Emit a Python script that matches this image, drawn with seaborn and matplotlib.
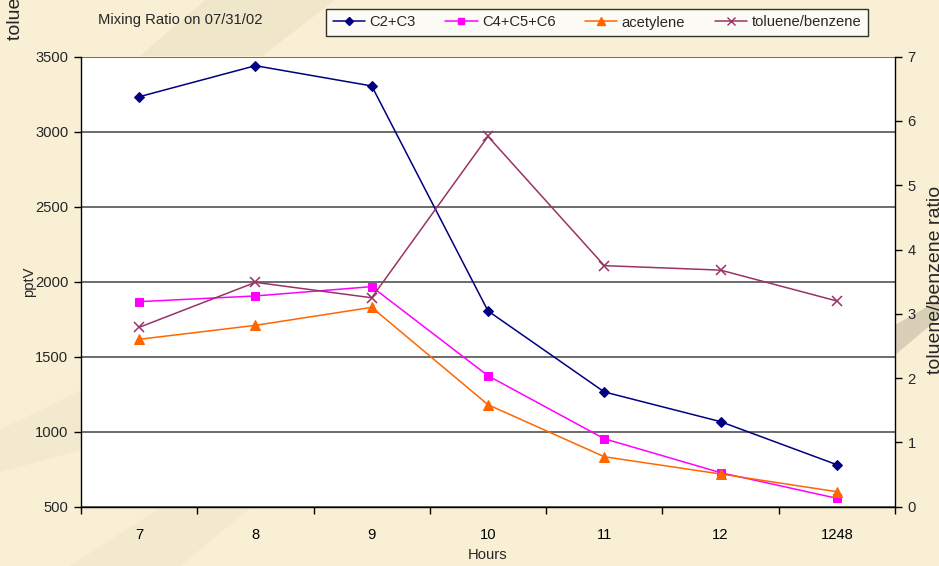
import numpy as np
import pandas as pd
import matplotlib
matplotlib.use("Agg")
import matplotlib.pyplot as plt
from matplotlib.patches import Polygon
from matplotlib.lines import Line2D
from matplotlib import font_manager
import seaborn as sns

hours = ["7", "8", "9", "10", "11", "12", "1248"]
c2_c3 = [3233, 3440, 3305, 1805, 1265, 1067, 780]
c4_c5_c6 = [1867, 1905, 1967, 1373, 953, 727, 556]
acetylene = [1616, 1709, 1829, 1180, 833, 718, 600]
tol_benz = [2.79, 3.49, 3.25, 5.76, 3.75, 3.68, 3.20]

left_ticks = [500, 1000, 1500, 2000, 2500, 3000, 3500]
right_ticks = [0, 1, 2, 3, 4, 5, 6, 7]

sns.set_theme(style="white")
names = {f.name for f in font_manager.fontManager.ttflist}
narrow = "Liberation Sans Narrow" in names
plt.rcParams['font.family'] = (['Liberation Sans Narrow', 'Liberation Sans', 'DejaVu Sans']
                               if narrow else ['Liberation Sans', 'DejaVu Sans'])
FS = 12.6 if narrow else 10.6
FS_BIG = 16.5 if narrow else 14

W, H = 939, 566
fig = plt.figure(figsize=(W / 100, H / 100), dpi=100)
bg = "#F8EFD5"
fig.patch.set_facecolor(bg)

def fx(x):
    return x / W
def fy(y):
    return 1 - y / H

# decorative swooshes
for pts, col in [
    ([(140, 56), (205, 0), (335, 0), (262, 56)], "#F0E6CA"),
    ([(0, 430), (81, 390), (81, 450), (0, 472)], "#F2E9CE"),
    ([(70, 566), (160, 508), (250, 508), (180, 566)], "#F2E9CE"),
    ([(895, 325), (939, 300), (939, 318), (895, 355)], "#D8CFB6"),
]:
    fig.add_artist(Polygon([(fx(a), fy(b)) for a, b in pts], closed=True,
                           transform=fig.transFigure, facecolor=col,
                           edgecolor="none", zorder=0))

L, R, T, B = 81, 895, 56.7, 506.7
ax = fig.add_axes([fx(L), fy(B), (R - L) / W, (B - T) / H])
ax.set_facecolor("white")
ax2 = ax.twinx()

x = np.arange(len(hours))
df = pd.DataFrame({"pos": np.tile(x, 3),
                   "val": c2_c3 + c4_c5_c6 + acetylene,
                   "series": ["C2+C3"] * 7 + ["C4+C5+C6"] * 7 + ["acetylene"] * 7})
colors = {"C2+C3": "#000080", "C4+C5+C6": "#FF00FF", "acetylene": "#FF6600"}
markers = {"C2+C3": "D", "C4+C5+C6": "s", "acetylene": "^"}
msize = {"C2+C3": 5, "C4+C5+C6": 6, "acetylene": 7}
for s in ["C2+C3", "C4+C5+C6", "acetylene"]:
    sub = df[df.series == s]
    sns.lineplot(data=sub, x="pos", y="val", ax=ax, color=colors[s],
                 marker=markers[s], markersize=msize[s], markeredgecolor=colors[s],
                 linewidth=1.1, legend=False, zorder=3)

tb_color = "#993366"
df2 = pd.DataFrame({"pos": x, "val": tol_benz})
sns.lineplot(data=df2, x="pos", y="val", ax=ax2, color=tb_color, marker="x",
             markersize=7, markeredgewidth=1.1, markeredgecolor=tb_color,
             linewidth=1.1, legend=False)

ax.set_xlim(-0.5, len(hours) - 0.5)
ax.set_ylim(500, 3500)
ax2.set_ylim(0, 7)
ax.set_yticks(left_ticks)
ax2.set_yticks(right_ticks)
ax.set_xticks(x)
ax.set_xticklabels(hours)
ax.set_xticks(np.arange(-0.5, len(hours) + 0.5, 1), minor=True)
ax.tick_params(axis="x", which="major", length=0, pad=15, labelsize=FS, colors="black")
ax.tick_params(axis="x", which="minor", length=5, width=1, color="black", direction="out", bottom=True)
ax.tick_params(axis="y", length=5, width=1, color="black", direction="out", labelsize=FS, left=True, pad=4)
ax2.tick_params(axis="y", length=5, width=1, color="black", direction="out", labelsize=FS, right=True, pad=4)

ax.yaxis.grid(True, color="#606060", linewidth=1.3)
ax.xaxis.grid(False)
ax2.grid(False)
for a in (ax, ax2):
    for sp in a.spines.values():
        sp.set_visible(False)
ax.spines["left"].set_visible(True)
ax.spines["left"].set_color("black")
ax.spines["bottom"].set_visible(True)
ax.spines["bottom"].set_color("black")
ax2.spines["right"].set_visible(True)
ax2.spines["right"].set_color("black")
for sp in ("left", "bottom"):
    ax.spines[sp].set_linewidth(1)
ax2.spines["right"].set_linewidth(1)

ax.set_xlabel("")
ax.set_ylabel("")
ax2.set_xlabel("")
ax2.set_ylabel("")

fig.text(fx(488), fy(555), "Hours", ha="center", va="center", fontsize=FS)
fig.text(fx(29), fy(282), "pptV", ha="center", va="center", rotation=90, fontsize=FS)
fig.text(fx(935), fy(280), "toluene/benzene ratio", ha="center", va="center",
         rotation=90, fontsize=FS_BIG)
fig.text(fx(16), fy(40), "toluene/benzene ratio", ha="center", va="bottom",
         rotation=90, fontsize=FS_BIG)
fig.text(fx(98), fy(20), "Mixing Ratio on 07/31/02", ha="left", va="center", fontsize=FS)

handles = [
    Line2D([], [], color="#000080", marker="D", markersize=4, linewidth=1.1),
    Line2D([], [], color="#FF00FF", marker="s", markersize=5, linewidth=1.1),
    Line2D([], [], color="#FF6600", marker="^", markersize=6, linewidth=1.1),
    Line2D([], [], color=tb_color, marker="x", markersize=6, linewidth=1.1),
]
labels = ["C2+C3", "C4+C5+C6", "acetylene", "toluene/benzene"]
leg = fig.legend(handles, labels, loc="center", bbox_to_anchor=(fx(597), fy(22.5)),
                 ncol=4, frameon=True, fancybox=False, fontsize=FS,
                 handlelength=2.2, handletextpad=0.3, columnspacing=2.0,
                 borderpad=0.45, edgecolor="black", facecolor="white")
leg.get_frame().set_linewidth(1)

fig.savefig("out.png", dpi=100, facecolor=bg)
